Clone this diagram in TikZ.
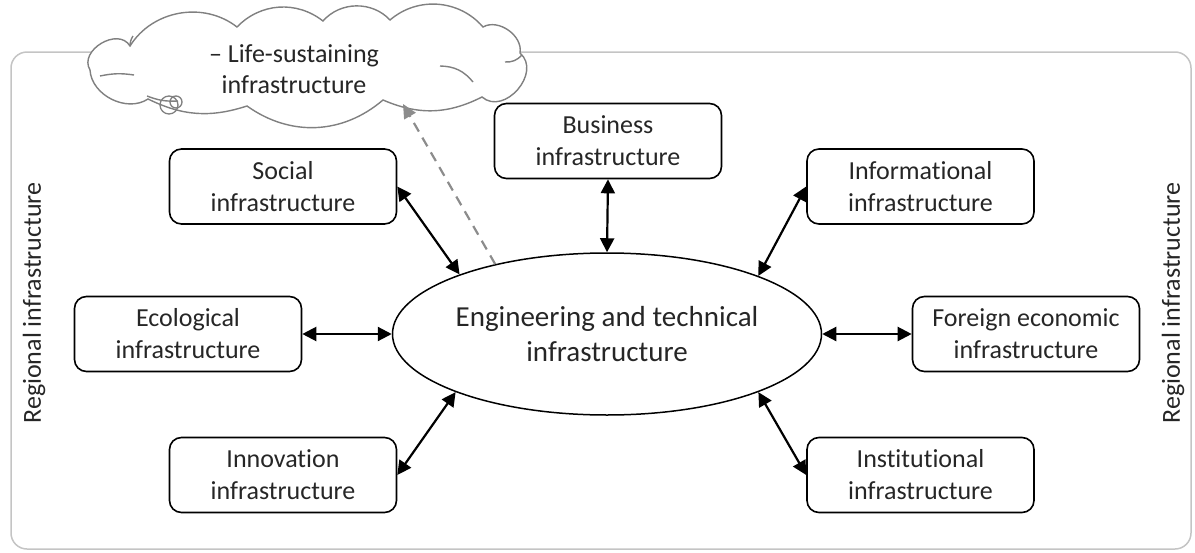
\documentclass[tikz,border=0pt]{standalone}
\usepackage{fontspec}
\setmainfont{Carlito}[Ligatures=NoCommon]
\usetikzlibrary{arrows.meta,shapes.geometric}
\definecolor{framegray}{HTML}{C4C4C4}
\definecolor{cloudgray}{HTML}{808080}
\definecolor{dashgray}{HTML}{8C8C8C}
\definecolor{txt}{HTML}{262626}
\begin{document}
\begin{tikzpicture}[x=1pt,y=-1pt,
  box/.style={draw, line width=1.6pt, rounded corners=12pt, minimum width=227pt,
    minimum height=75pt, align=center, inner sep=0pt, text=txt,
    font=\fontsize{26}{32}\selectfont},
  link/.style={{Triangle[length=14pt,width=14pt]}-{Triangle[length=14pt,width=14pt]}, line width=2.2pt},
  dashlink/.style={-{Triangle[length=14pt,width=13pt]}, draw=dashgray, line width=2.2pt,
    dash pattern=on 10pt off 7pt},
  sidelabel/.style={rotate=90, text=txt, font=\fontsize{26}{32}\selectfont, inner sep=0pt},
  cloudline/.style={draw=cloudgray, line width=1.4pt}]
\useasboundingbox (0,0) rectangle (1195,552);
% frame
\draw[framegray, line width=1.5pt, rounded corners=16pt] (11,52) rectangle (1191,549);
\node[sidelabel] (regl) at (34,303) {Regional infrastructure};
\node[sidelabel] (regr) at (1173,303) {Regional infrastructure};
% cloud
\path[cloudline, fill=white] (90,70) to[bend left=90, looseness=1.25] (130,46)
  to[bend left=48] (237,27) to[bend left=42] (323,21) to[bend left=48] (390,20)
  to[bend left=45] (483,27) to[bend left=65] (520,53)
  to[bend left=90, looseness=1.3] (482,97) to[bend left=25] (383,100)
  to[bend left=38] (247,106) to[bend left=22] (148,99)
  to[bend left=60] (90,70) -- cycle;
\draw[cloudline] (100,76) to[bend left=10] (134,75);
\draw[cloudline] (147,96) to[bend right=12] (178,101);
\draw[cloudline] (440,66) to[bend left=25] (473,82);
\draw[cloudline] (505,62) to[bend right=25] (522,55);
\draw[cloudline] (130,46) to[bend left=15] (133,36);
\node[align=center, text=txt, font=\fontsize{26}{31}\selectfont, inner sep=0pt] (cloudtext) at (294,69)
  {-- Life-sustaining\\infrastructure};
\draw[cloudgray, line width=1.3pt] (169,105) circle (9pt);
\draw[cloudgray, line width=1.3pt] (176,102) circle (6pt);
% centre
\node[ellipse, draw, line width=1.5pt, minimum width=429pt, minimum height=162pt, inner sep=0pt,
  align=center, text=txt, font=\fontsize{29}{35}\selectfont] (ell) at (607,334)
  {Engineering and technical\\infrastructure};
% boxes
\node[box] (soc) at (283,186.5) {Social\\infrastructure};
\node[box] (bus) at (608,141) {Business\\infrastructure};
\node[box] (inf) at (920.5,186.5) {Informational\\infrastructure};
\node[box] (eco) at (188,334) {Ecological\\infrastructure};
\node[box] (for) at (1026,334) {Foreign economic\\infrastructure};
\node[box] (inn) at (283,475) {Innovation\\infrastructure};
\node[box] (ins) at (920.5,475) {Institutional\\infrastructure};
% connectors
\coordinate (tip) at (403,104);
\draw[dashlink] (ell.148) -- (tip);
\draw[link] (soc.east) -- (ell.158.8);
\draw[link] (bus.south) -- (ell.north);
\draw[link] (inf.west) -- (ell.21.2);
\draw[link] (eco.east) -- (ell.west);
\draw[link] (ell.east) -- (for.west);
\draw[link] (inn.east) -- (ell.201.2);
\draw[link] (ins.west) -- (ell.-21.2);
\end{tikzpicture}
\end{document}
